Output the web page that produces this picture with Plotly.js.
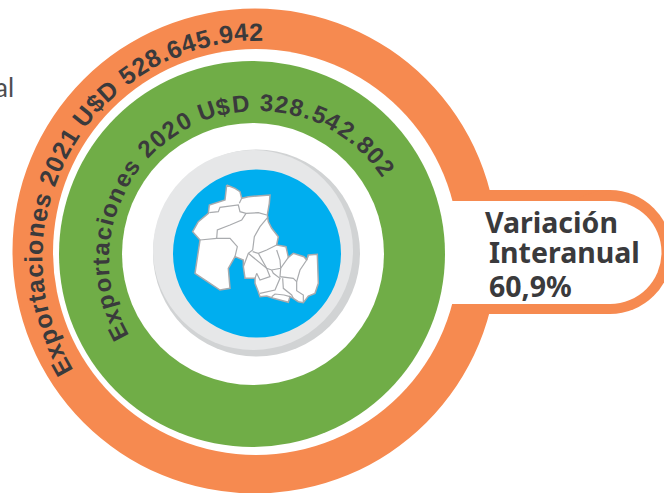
<!DOCTYPE html>
<html><head><meta charset="utf-8">
<script src="https://cdn.plot.ly/plotly-3.0.1.min.js"></script>
<style>html,body{margin:0;padding:0;background:#fff;overflow:hidden}#c{width:664px;height:493px}</style>
</head><body><div id="c"></div>
<script>
const exportYears = [2021, 2020];
const exportValues = [528645942, 328542802];
const variationLines = ['Variación', 'Interanual', '60,9%'];
const orange = '#f68a50', green = '#70ad47', blue = '#00aeef', ink = '#3a3a3c';

// Map outline of the province (image pixels)
const mapOutlineX = [200,225,240,245,265,330,328,322,325,335,355,350,378,385,400,432,440,445,472,475,465,445,430,415,400,390,385,365,340,320,300,295,285,285,255,250,250,225,205,210,180,150,105,120,98,115,145,148,195,200].map(v=>160+v/3);
const mapOutlineY = [45,55,65,85,80,75,100,135,155,175,200,225,230,262,250,260,270,255,253,340,370,378,398,395,385,380,397,392,385,378,380,365,340,325,325,290,270,260,295,355,360,340,310,210,185,155,130,105,90,45].map(v=>170+v/3);
const mapBorders = [
 [[148,128],[175,125],[180,112],[235,105],[240,125],[258,130],[295,128],[320,135]],
 [[245,85],[238,100]],
 [[120,210],[170,205],[210,205],[232,230],[225,260]],
 [[170,205],[172,180],[210,165],[245,150],[258,130]],
 [[325,140],[300,170],[283,200],[278,240],[265,250],[250,290]],
 [[278,245],[295,250],[320,240],[350,225]],
 [[295,250],[320,295],[335,300],[362,295],[385,262]],
 [[350,240],[360,270],[362,295]],
 [[265,250],[290,270],[320,295],[330,320],[300,330],[290,310],[285,325]],
 [[335,300],[340,310],[360,325],[350,350],[345,360],[300,370]],
 [[362,295],[360,320],[400,325],[410,335],[410,362],[430,375],[430,398]],
 [[445,255],[440,270],[420,300],[410,335]],
 [[368,325],[370,355],[395,375],[400,385]],
 [[335,380],[345,372],[372,375],[390,380]]
];
const bx = [], by = [];
mapBorders.forEach(l => { l.forEach(p => { bx.push(160+p[0]/3); by.push(170+p[1]/3); }); bx.push(null); by.push(null); });

function disk(cx, cy, r, fill) {
  return {type:'circle', xref:'x', yref:'y', x0:cx-r, x1:cx+r, y0:cy-r, y1:cy+r, fillcolor:fill, line:{width:0}, layer:'below'};
}
function box(x0, y0, x1, y1, fill) {
  return {type:'rect', xref:'x', yref:'y', x0, x1, y0, y1, fillcolor:fill, line:{width:0}, layer:'below'};
}
const shapes = [
  disk(255, 251, 242.5, orange),
  box(440, 190, 610, 314, orange), disk(610, 252, 62, orange),
  disk(256, 252, 203, '#ffffff'),
  box(440, 201, 610, 304, '#ffffff'), disk(610, 252.5, 51.5, '#ffffff'),
  disk(252, 254, 193, green),
  disk(253, 254, 131, '#ffffff'),
  disk(256.5, 253, 103.5, '#d1d3d4'),
  disk(253, 250, 100, '#e6e7e8'),
  disk(257, 253.5, 84, blue)
];

const fmt = v => String(v).replace(/\B(?=(\d{3})+$)/g, '.');
const ctx = document.createElement('canvas').getContext('2d');
function arcText(text, cx, cy, R, a0, a1, size) {
  ctx.font = 'bold ' + size + 'px "Liberation Sans"';
  const chars = [...text];
  const L = (a1 - a0) * Math.PI / 180 * R;
  const W = ctx.measureText(text).width;
  const extra = (L - W) / (chars.length - 1);
  let s = 0; const out = [];
  chars.forEach((ch, i) => {
    const w = ctx.measureText(ch).width;
    const th = (a0 + (s + w/2) / R * 180 / Math.PI) * Math.PI / 180;
    const rr = R + size * 0.34;
    if (ch !== ' ') out.push({x: cx + rr*Math.sin(th), y: cy - rr*Math.cos(th), text: ch,
      textangle: th*180/Math.PI, showarrow:false, xanchor:'center', yanchor:'middle', borderpad:0,
      font:{family:'"Liberation Sans", Arial, sans-serif', size, color:ink, weight:700}});
    s += w + extra;
  });
  return out;
}
function line(text, x, y, size) {
  return {x, y, text, showarrow:false, xanchor:'left', yanchor:'middle', borderpad:0,
    font:{family:'"Noto Sans", Lato, sans-serif', size, color:ink, weight:700}};
}
const annotations = [
  ...arcText('Exportaciones ' + exportYears[0] + ' U$D ' + fmt(exportValues[0]), 260, 258, 218, -121, 0.8, 25),
  ...arcText('Exportaciones ' + exportYears[1] + ' U$D ' + fmt(exportValues[1]), 258, 260, 149.5, -120.4, 56.5, 24),
  line(variationLines[0], 484, 222, 28.5),
  line(variationLines[1], 488, 252, 28.5),
  line(variationLines[2], 488, 286, 28.5),
  {x:15, y:87, text:'al', showarrow:false, xanchor:'right', yanchor:'middle', borderpad:0,
   font:{family:'Lato, sans-serif', size:26, color:'#4d4d4f', weight:400}}
];

const traces = [
  {type:'scatter', mode:'lines', x:mapOutlineX, y:mapOutlineY, fill:'toself', fillcolor:'#ffffff',
   line:{color:'#a9abae', width:1.5}, hoverinfo:'skip', showlegend:false},
  {type:'scatter', mode:'lines', x:bx, y:by, line:{color:'#a9abae', width:1.2}, hoverinfo:'skip', showlegend:false, connectgaps:false}
];
const layout = {
  width:664, height:493, margin:{l:0,r:0,t:0,b:0}, paper_bgcolor:'#fff', plot_bgcolor:'#fff', showlegend:false,
  xaxis:{range:[0,664], visible:false, fixedrange:true},
  yaxis:{range:[493,0], visible:false, fixedrange:true},
  shapes, annotations
};
Plotly.newPlot('c', traces, layout, {displayModeBar:false, staticPlot:true});
</script></body></html>
